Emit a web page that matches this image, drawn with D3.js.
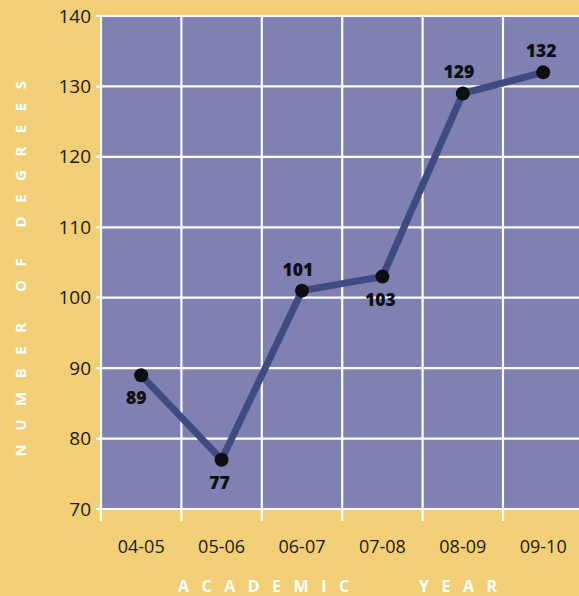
<!DOCTYPE html>
<html>
<head>
<meta charset="utf-8">
<script src="https://cdn.jsdelivr.net/npm/d3@7"></script>
<style>
  html, body { margin: 0; padding: 0; background: #f3d077; }
  svg { display: block; }
</style>
</head>
<body>
<svg id="chart" width="579" height="596"></svg>
<script>
// Degrees awarded per academic year
const years = ["04-05", "05-06", "06-07", "07-08", "08-09", "09-10"];
const degrees = [89, 77, 101, 103, 129, 132];
const yTicks = [70, 80, 90, 100, 110, 120, 130, 140];

const W = 579, H = 596;
const plot = { left: 101, right: 583.4, top: 16, bottom: 509 };

const svg = d3.select("#chart");

svg.append("rect").attr("width", W).attr("height", H).attr("fill", "#f3d077");

const x = d3.scaleBand().domain(years).range([plot.left, plot.right]).padding(0);
const y = d3.scaleLinear().domain([70, 140]).range([plot.bottom, plot.top]);

// plot background
svg.append("rect")
  .attr("x", plot.left).attr("y", plot.top)
  .attr("width", plot.right - plot.left).attr("height", plot.bottom - plot.top)
  .attr("fill", "#7e81b2");

// horizontal grid lines
svg.append("g").selectAll("line").data(yTicks).join("line")
  .attr("x1", plot.left - 5).attr("x2", plot.right)
  .attr("y1", d => y(d)).attr("y2", d => y(d))
  .attr("stroke", "#ffffff").attr("stroke-width", 2.2);

// vertical grid lines at the band edges
const edges = years.map(d => x(d)).concat([x(years[years.length - 1]) + x.bandwidth()]);
svg.append("g").selectAll("line").data(edges).join("line")
  .attr("x1", d => d).attr("x2", d => d)
  .attr("y1", plot.top).attr("y2", plot.bottom + 12)
  .attr("stroke", "#ffffff").attr("stroke-width", 2.2);

// y axis labels
const yAxis = d3.axisLeft(y).tickValues(yTicks).tickSize(0).tickPadding(10);
const gy = svg.append("g").attr("transform", `translate(${plot.left},0)`).call(yAxis);
gy.select(".domain").remove();
gy.selectAll("text")
  .attr("font-family", "'Open Sans', sans-serif")
  .attr("font-size", 19).attr("fill", "#1a1a1a");

// x axis labels
const xAxis = d3.axisBottom(x).tickSize(0).tickPadding(31);
const gx = svg.append("g").attr("transform", `translate(0,${plot.bottom})`).call(xAxis);
gx.select(".domain").remove();
gx.selectAll("text")
  .attr("font-family", "'Open Sans', sans-serif")
  .attr("font-size", 18).attr("fill", "#1a1a1a");

// series line
const cx = d => x(d) + x.bandwidth() / 2;
const line = d3.line().x((d, i) => cx(years[i])).y(d => y(d));
svg.append("path").datum(degrees)
  .attr("d", line)
  .attr("fill", "none").attr("stroke", "#3f4a80")
  .attr("stroke-width", 7).attr("stroke-linejoin", "round");

// markers
svg.append("g").selectAll("circle").data(degrees).join("circle")
  .attr("cx", (d, i) => cx(years[i])).attr("cy", d => y(d))
  .attr("r", 7).attr("fill", "#0d0d14");

// value labels: below for dips and plateaus, above for rises
const above = (d, i) => {
  const prev = i > 0 ? degrees[i - 1] : null;
  const next = i < degrees.length - 1 ? degrees[i + 1] : null;
  if (next !== null && next - d > 5) return prev !== null && d - prev > 5 && d - prev > next - d;
  return prev !== null && d > prev;
};
svg.append("g").selectAll("text").data(degrees).join("text")
  .attr("x", (d, i) => cx(years[i]) + (i === 0 ? -5 : (i === 2 || i === 4 ? -4 : -2)))
  .attr("y", (d, i) => y(d) + (above(d, i) ? -15 : 29))
  .attr("text-anchor", "middle")
  .attr("font-family", "'Open Sans', sans-serif")
  .attr("font-weight", 800).attr("font-size", 17.5)
  .attr("fill", "#0d0d14")
  .text(d => d);

// axis titles
svg.append("text")
  .attr("transform", "translate(26,262) rotate(-90)")
  .attr("text-anchor", "middle")
  .attr("font-family", "'Open Sans', sans-serif")
  .attr("font-weight", 700).attr("font-size", 15)
  .attr("letter-spacing", 13.5).attr("fill", "#ffffff")
  .text("NUMBER OF DEGREES");

svg.append("text")
  .attr("x", 178).attr("y", 592)
  .attr("font-family", "'Open Sans', sans-serif")
  .attr("font-weight", 700).attr("font-size", 16)
  .attr("letter-spacing", 12.5).attr("fill", "#ffffff")
  .text("ACADEMIC");
svg.append("text")
  .attr("x", 419).attr("y", 592)
  .attr("font-family", "'Open Sans', sans-serif")
  .attr("font-weight", 700).attr("font-size", 16)
  .attr("letter-spacing", 12.5).attr("fill", "#ffffff")
  .text("YEAR");
</script>
</body>
</html>
